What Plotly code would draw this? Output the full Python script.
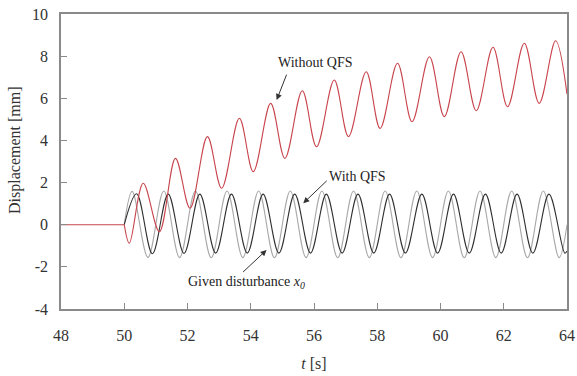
import plotly.graph_objects as go

# ---- data (extrema of each curve) ----
flat_t = [48.0, 50.0]
flat_y = [0.0, 0.0]

red_t = [50.0, 50.16, 50.6, 51.11, 51.62, 52.08, 52.63, 53.08, 53.64, 54.08,
         54.63, 55.08, 55.63, 56.08, 56.64, 57.09, 57.65, 58.09, 58.64, 59.1,
         59.65, 60.12, 60.65, 61.13, 61.66, 62.12, 62.65, 63.12, 63.64, 64.0]
red_y = [0.0, -0.88, 1.97, -0.33, 3.15, 0.78, 4.18, 1.73, 5.05, 2.52,
         5.76, 3.15, 6.36, 3.70, 6.87, 4.18, 7.26, 4.57, 7.66, 4.89,
         7.97, 5.13, 8.21, 5.41, 8.42, 5.60, 8.61, 5.76, 8.73, 6.2]

grey_t = [50.0, 50.25, 50.75, 51.25, 51.75, 52.25, 52.75, 53.25, 53.75, 54.25,
          54.75, 55.25, 55.75, 56.25, 56.75, 57.25, 57.75, 58.25, 58.75, 59.25,
          59.75, 60.25, 60.75, 61.25, 61.75, 62.25, 62.75, 63.25, 63.75, 64.0]
grey_y = [0.0, 1.58, -1.55, 1.6, -1.56, 1.6, -1.57, 1.6, -1.56, 1.6,
          -1.57, 1.6, -1.56, 1.6, -1.57, 1.6, -1.56, 1.6, -1.57, 1.6,
          -1.56, 1.6, -1.57, 1.6, -1.56, 1.6, -1.57, 1.6, -1.56, 0.0]

black_t = [50.0, 50.39, 50.89, 51.39, 51.89, 52.39, 52.89, 53.39, 53.89, 54.39,
           54.89, 55.39, 55.89, 56.39, 56.89, 57.39, 57.89, 58.39, 58.89, 59.41,
           59.91, 60.41, 60.91, 61.42, 61.92, 62.42, 62.92, 63.43, 63.93, 64.0]
black_y = [0.0, 1.47, -1.38, 1.45, -1.36, 1.45, -1.35, 1.45, -1.35, 1.45,
           -1.35, 1.45, -1.35, 1.45, -1.35, 1.45, -1.35, 1.45, -1.35, 1.45,
           -1.35, 1.45, -1.35, 1.45, -1.35, 1.45, -1.35, 1.45, -1.35, -1.25]

x_ticks = [48, 50, 52, 54, 56, 58, 60, 62, 64]
y_ticks = [-4, -2, 0, 2, 4, 6, 8, 10]
y_tick_text = ["-4", "-2", "0", "2", "4", "6", "8", "10"]

FONT = "Liberation Serif, Times New Roman, serif"
TXT = "#333333"

fig = go.Figure()
fig.add_trace(go.Scatter(x=grey_t, y=grey_y, mode="lines",
                         line=dict(color="#a8a8a8", width=1.1, shape="spline", smoothing=1.0)))
fig.add_trace(go.Scatter(x=black_t, y=black_y, mode="lines",
                         line=dict(color="#303030", width=1.1, shape="spline", smoothing=1.0)))
fig.add_trace(go.Scatter(x=flat_t, y=flat_y, mode="lines",
                         line=dict(color="#c8444c", width=1.1)))
fig.add_trace(go.Scatter(x=red_t, y=red_y, mode="lines",
                         line=dict(color="#c8444c", width=1.1, shape="spline", smoothing=1.0)))

# labels
lab_font = dict(family=FONT, size=14, color="#222")
fig.add_annotation(x=56.05, y=7.72, text="Without QFS", showarrow=False, font=lab_font)
fig.add_annotation(x=57.39, y=2.31, text="With QFS", showarrow=False, font=lab_font)
fig.add_annotation(x=53.85, y=-2.72, text="Given disturbance <i>x</i><sub><i>0</i></sub>",
                   showarrow=False, font=lab_font)
# arrows (tip, tail)
for tip, tail in [((54.82, 5.92), (55.15, 7.19)),
                  ((55.66, 1.02), (56.45, 2.15)),
                  ((54.50, -1.20), (53.71, -2.31))]:
    fig.add_annotation(x=tip[0], y=tip[1], ax=tail[0], ay=tail[1],
                       xref="x", yref="y", axref="x", ayref="y", text="",
                       showarrow=True, arrowhead=2, arrowsize=1.2, arrowwidth=1,
                       arrowcolor="#333")

fig.add_annotation(xref="paper", yref="paper", x=-0.091, y=0.539, text="Displacement [mm]",
                   textangle=-90, showarrow=False, xanchor="center", yanchor="middle",
                   font=dict(family=FONT, size=16, color=TXT))

axis_common = dict(showgrid=False, zeroline=False, showline=True, linecolor="#8a8a8a",
                   linewidth=1.5, mirror=True, ticks="inside", ticklen=6, tickcolor="#8a8a8a",
                   automargin=False, tickfont=dict(family=FONT, size=16, color=TXT))
fig.update_xaxes(range=[48, 64], tickvals=x_ticks, ticklabelstandoff=11,
                 title=dict(text="<i>t</i> [s]", font=dict(family=FONT, size=16, color=TXT),
                            standoff=15),
                 **axis_common)
fig.update_yaxes(range=[-4, 10], tickvals=y_ticks, ticktext=y_tick_text, ticklabelstandoff=8,
                 **axis_common)
fig.update_layout(width=577, height=376, margin=dict(l=61, r=10, t=14, b=67),
                  font=dict(family=FONT, color=TXT),
                  plot_bgcolor="white", paper_bgcolor="white", showlegend=False)
fig.write_html("out.html")
